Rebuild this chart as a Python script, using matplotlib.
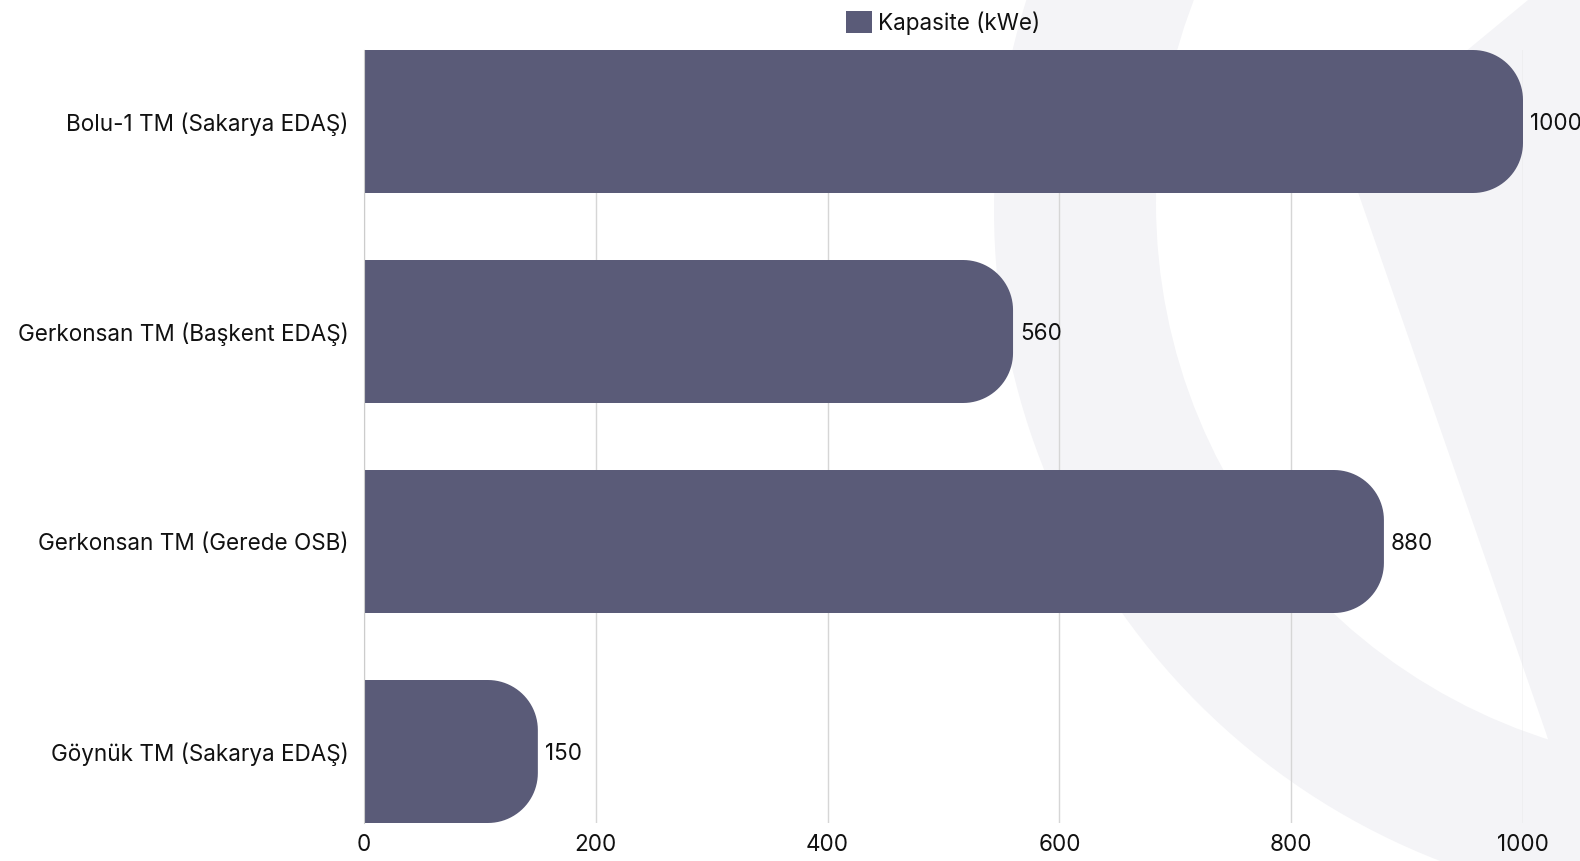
import matplotlib.pyplot as plt
from matplotlib.patches import Circle, Polygon, PathPatch, Patch
from matplotlib.path import Path
import numpy as np

# --- data ---
categories = ['Bolu-1 TM (Sakarya EDAŞ)', 'Gerkonsan TM (Başkent EDAŞ)',
              'Gerkonsan TM (Gerede OSB)', 'Göynük TM (Sakarya EDAŞ)']
kapasite = [1000, 560, 880, 150]
x_ticks = [0, 200, 400, 600, 800, 1000]
legend_label = 'Kapasite (kWe)'

BAR_COLOR = '#5a5b78'
WM_COLOR = '#f4f4f7'
TEXT_COLOR = '#111111'
FS = 16.2

plt.rcParams['font.family'] = ['Inter', 'DejaVu Sans']

W, H = 1580, 861
fig = plt.figure(figsize=(W / 100, H / 100), dpi=100)
fig.patch.set_facecolor('white')

# --- faint watermark logo in the background (pixel coords) ---
bg = fig.add_axes([0, 0, 1, 1], zorder=-1)
bg.set_xlim(0, W)
bg.set_ylim(H, 0)
bg.axis('off')
bg.add_patch(Circle((1692, 210), 698, color=WM_COLOR, lw=0))
inner = Circle((1719, 203), 563, facecolor='none', edgecolor='none')
bg.add_patch(inner)
hole = Polygon([(0, 0), (1528, 0), (1344, 152), (1546, 733), (1600, 900), (0, 900)],
               closed=True, color='white', lw=0)
bg.add_patch(hole)
hole.set_clip_path(inner)

# --- main axes ---
ax_l, ax_r, ax_t, ax_b = 364, 1523, 50, 823
ax = fig.add_axes([ax_l / W, (H - ax_b) / H, (ax_r - ax_l) / W, (ax_b - ax_t) / H])
ax.set_facecolor('none')

bar_h = 143 / 210
y_pos = np.arange(len(categories))
ax.set_xlim(0, 1000)
ax.set_ylim(len(categories) - 1 + bar_h / 2, -bar_h / 2)

# corner radius: 50px converted to data units
r_px = 50
rx = r_px * 1000 / (ax_r - ax_l)
ry = r_px * (len(categories) - 1 + bar_h) / (ax_b - ax_t)

t = np.linspace(0, np.pi / 2, 24)
for y, v in zip(y_pos, kapasite):
    y0, y1 = y - bar_h / 2, y + bar_h / 2
    pts = [(0, y0), (v - rx, y0)]
    pts += [(v - rx + rx * np.sin(a), y0 + ry - ry * np.cos(a)) for a in t]
    pts += [(v, y1 - ry)]
    pts += [(v - rx + rx * np.cos(a), y1 - ry + ry * np.sin(a)) for a in t]
    pts += [(0, y1), (0, y0)]
    ax.add_patch(PathPatch(Path(pts, closed=True), facecolor=BAR_COLOR, lw=0, zorder=2))
    ax.annotate(str(v), (v, y), xytext=(7, -2), textcoords='offset pixels',
                ha='left', va='center', fontsize=FS, color=TEXT_COLOR,
                annotation_clip=False)

ax.set_xticks(x_ticks)
ax.set_yticks(y_pos)
ax.set_yticklabels(categories)
ax.grid(axis='x', color='#d6d6d6', lw=1)
ax.set_axisbelow(True)
for s in ['top', 'right', 'bottom']:
    ax.spines[s].set_visible(False)
ax.spines['left'].set_color('#cccccc')
ax.tick_params(axis='both', length=0, labelsize=FS, colors=TEXT_COLOR)
ax.tick_params(axis='y', pad=11)
ax.tick_params(axis='x', pad=8)

ax.legend(handles=[Patch(facecolor=BAR_COLOR, label=legend_label)],
          loc='center', bbox_to_anchor=(0.5, 1 + 27 / (ax_b - ax_t)),
          frameon=False, fontsize=FS, handlelength=1.12, handleheight=1.12,
          handletextpad=0.3, borderaxespad=0, labelcolor=TEXT_COLOR)

fig.savefig('out.png', dpi=100)
